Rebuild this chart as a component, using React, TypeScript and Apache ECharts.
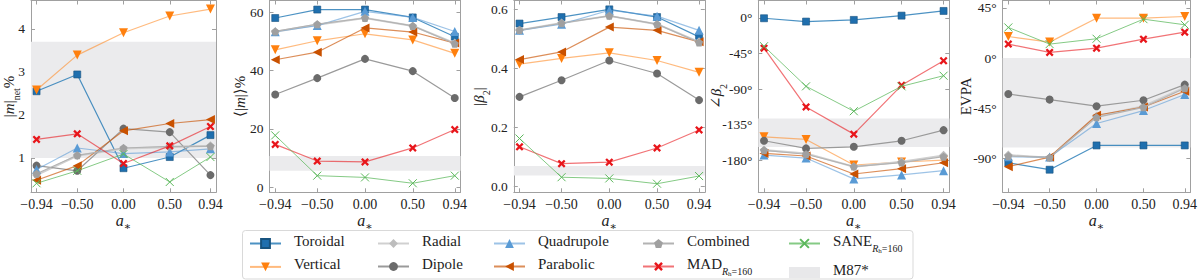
import React, { useEffect, useRef } from 'react';
import * as echarts from 'echarts';

const A_STAR = [-0.94, -0.5, 0, 0.5, 0.94];

// Panel 1: |m|_net %
const MNET_TOROIDAL = [2.55, 2.94, 0.76, 1.02, 1.53];
const MNET_VERTICAL = [2.58, 3.39, 3.91, 4.3, 4.46];
const MNET_RADIAL = [0.6, 1.05, 1.22, 1.25, 1.28];
const MNET_DIPOLE = [0.82, 0.7, 1.68, 1.6, 0.6];
const MNET_QUADRUPOLE = [0.73, 1.23, 1.1, 1.14, 1.21];
const MNET_PARABOLIC = [0.48, 0.82, 1.63, 1.8, 1.89];
const MNET_COMBINED = [0.63, 1.06, 1.23, 1.27, 1.27];
const MNET_MAD = [1.43, 1.56, 0.87, 1.28, 1.73];
const MNET_SANE = [0.41, 0.7, 1.09, 0.44, 1.02];
const MNET_BAND = [1.0, 3.7];
const MNET_TICKS = [1, 2, 3, 4];

// Panel 2: <|m|> %
const MAVG_TOROIDAL = [58.0, 60.9, 60.9, 58.2, 51.6];
const MAVG_VERTICAL = [47.1, 50.2, 52.6, 50.5, 45.9];
const MAVG_RADIAL = [53.3, 55.7, 58.0, 55.3, 49.4];
const MAVG_DIPOLE = [31.8, 37.4, 44.0, 39.8, 30.6];
const MAVG_QUADRUPOLE = [53.3, 55.4, 60.3, 58.2, 53.4];
const MAVG_PARABOLIC = [43.7, 46.3, 54.6, 53.2, 49.4];
const MAVG_COMBINED = [53.4, 55.9, 58.0, 55.3, 49.2];
const MAVG_MAD = [14.7, 9.0, 8.7, 13.5, 19.8];
const MAVG_SANE = [17.8, 4.0, 3.4, 1.4, 4.0];
const MAVG_BAND = [5.7, 10.7];
const MAVG_TICKS = [0, 20, 40, 60];

// Panel 3: |beta_2|
const B2ABS_TOROIDAL = [0.552, 0.574, 0.6, 0.574, 0.507];
const B2ABS_VERTICAL = [0.415, 0.434, 0.453, 0.427, 0.387];
const B2ABS_RADIAL = [0.529, 0.554, 0.578, 0.55, 0.49];
const B2ABS_DIPOLE = [0.304, 0.36, 0.427, 0.383, 0.293];
const B2ABS_QUADRUPOLE = [0.529, 0.55, 0.597, 0.577, 0.529];
const B2ABS_PARABOLIC = [0.43, 0.456, 0.54, 0.529, 0.49];
const B2ABS_COMBINED = [0.53, 0.553, 0.578, 0.55, 0.488];
const B2ABS_MAD = [0.135, 0.078, 0.083, 0.131, 0.192];
const B2ABS_SANE = [0.163, 0.032, 0.028, 0.01, 0.036];
const B2ABS_BAND = [0.038, 0.07];
const B2ABS_TICKS = [0, 0.2, 0.4, 0.6];

// Panel 4: angle beta_2 (deg)
const B2ARG_TOROIDAL = [-0.4, -4.6, -2.5, 2.9, 8.8];
const B2ARG_VERTICAL = [-150, -153.3, -185.6, -181.8, -179.3];
const B2ARG_RADIAL = [-166.7, -170.9, -187.7, -181.4, -173.4];
const B2ARG_DIPOLE = [-155, -164.6, -162.6, -155, -141.6];
const B2ARG_QUADRUPOLE = [-173, -176.8, -203.1, -198.1, -192.7];
const B2ARG_PARABOLIC = [-170.9, -174.2, -196.9, -190.2, -182.7];
const B2ARG_COMBINED = [-167, -172, -187.5, -182.5, -175];
const B2ARG_MAD = [-38.2, -112.3, -146.6, -85, -54];
const B2ARG_SANE = [-35.7, -86.3, -117.7, -86.3, -72.9];
const B2ARG_BAND = [-163, -127];
const B2ARG_TICKS = [0, -45, -90, -135, -180];

// Panel 5: EVPA (deg)
const EVPA_TOROIDAL = [-93.6, -99.8, -78.1, -78.1, -78.1];
const EVPA_VERTICAL = [19.3, 14.3, 35.7, 35.7, 37.2];
const EVPA_RADIAL = [-86.7, -89.1, -52, -43, -26.1];
const EVPA_DIPOLE = [-32.1, -37.1, -43.0, -37.7, -23.7];
const EVPA_QUADRUPOLE = [-88.2, -88.5, -58.5, -46.9, -32.6];
const EVPA_PARABOLIC = [-97.1, -88.5, -51.1, -43.7, -29.7];
const EVPA_COMBINED = [-87.5, -88.8, -53, -44, -27];
const EVPA_MAD = [12.5, 5.1, 8.9, 16.9, 23.2];
const EVPA_SANE = [27.4, 12.5, 17.3, 34.8, 29.8];
const EVPA_BAND = [-80, 0];
const EVPA_TICKS = [45, 0, -45, -90];

const MODEL_NAMES = ['Toroidal', 'Vertical', 'Radial', 'Dipole', 'Quadrupole', 'Parabolic', 'Combined', 'MAD', 'SANE'];
const BAND_NAME = 'M87*';

const FONT = 'Liberation Serif, DejaVu Serif, serif';
const TXT = '#222';

const DOWN = 'path://M0,0L10,0L5,9Z';
const UP = 'path://M5,0L10,9L0,9Z';
const LEFT = 'path://M0,5L9,0L9,10Z';
const DIAMOND = 'path://M5,0L10,5L5,10L0,5Z';
const PENTA = 'path://M5,0L9.76,3.45L7.94,9.05L2.06,9.05L0.24,3.45Z';
const XTHICK = 'path://M2,0L5,3L8,0L10,2L7,5L10,8L8,10L5,7L2,10L0,8L3,5L0,2Z';
const XTHIN = 'path://M0,0L10,10M10,0L0,10';

const STYLE: Record<string, any> = {
  Toroidal: { symbol: 'rect', size: 7, color: '#1f6fae', border: '#17537f', bw: 0.6, line: 'rgba(31,119,180,0.8)', lw: 1.2 },
  Vertical: { symbol: DOWN, size: 9, color: '#ff800e', line: 'rgba(255,140,40,0.6)', lw: 1.2 },
  Radial: { symbol: DIAMOND, size: 9, color: '#bdbdbd', line: '#d0d0d0', lw: 2 },
  Dipole: { symbol: 'circle', size: 8, color: '#6b6b6b', line: '#9a9a9a', lw: 1.2 },
  Quadrupole: { symbol: UP, size: 9, color: '#5a9bd5', line: 'rgba(91,155,213,0.6)', lw: 1.2 },
  Parabolic: { symbol: LEFT, size: 9, color: '#c95100', line: 'rgba(201,81,0,0.65)', lw: 1.2 },
  Combined: { symbol: PENTA, size: 8, color: '#a0a0a0', line: '#b3b3b3', lw: 1.2 },
  MAD: { symbol: XTHICK, size: 8, color: '#e8161b', line: 'rgba(232,22,27,0.6)', lw: 1.2 },
  SANE: { symbol: XTHIN, size: 8, color: 'rgba(0,0,0,0)', border: '#5cb85c', bw: 1, line: 'rgba(92,184,92,0.75)', lw: 1 },
};

const deg = (v: number) => `${v}°`;

const PANELS = [
  {
    values: [MNET_TOROIDAL, MNET_VERTICAL, MNET_RADIAL, MNET_DIPOLE, MNET_QUADRUPOLE, MNET_PARABOLIC, MNET_COMBINED, MNET_MAD, MNET_SANE],
    band: MNET_BAND, ticks: MNET_TICKS, min: 0.2, max: 4.66, fmt: (v: number) => String(v),
    name: '{n||}{i|m}{n||}{s|net}{n|%}', nameGap: 10,
  },
  {
    values: [MAVG_TOROIDAL, MAVG_VERTICAL, MAVG_RADIAL, MAVG_DIPOLE, MAVG_QUADRUPOLE, MAVG_PARABOLIC, MAVG_COMBINED, MAVG_MAD, MAVG_SANE],
    band: MAVG_BAND, ticks: MAVG_TICKS, min: -1.7, max: 64, fmt: (v: number) => String(v),
    name: '{n|⟨|}{i|m}{n||⟩%}', nameGap: 17,
  },
  {
    values: [B2ABS_TOROIDAL, B2ABS_VERTICAL, B2ABS_RADIAL, B2ABS_DIPOLE, B2ABS_QUADRUPOLE, B2ABS_PARABOLIC, B2ABS_COMBINED, B2ABS_MAD, B2ABS_SANE],
    band: B2ABS_BAND, ticks: B2ABS_TICKS, min: -0.019, max: 0.63, fmt: (v: number) => v.toFixed(1),
    name: '{n||}{i|β}{s|2}{n||}', nameGap: 22,
  },
  {
    values: [B2ARG_TOROIDAL, B2ARG_VERTICAL, B2ARG_RADIAL, B2ARG_DIPOLE, B2ARG_QUADRUPOLE, B2ARG_PARABOLIC, B2ARG_COMBINED, B2ARG_MAD, B2ARG_SANE],
    band: B2ARG_BAND, ticks: B2ARG_TICKS, min: -220, max: 22, fmt: deg,
    name: '{n|∠}{i|β}{s|2}', nameGap: 30,
  },
  {
    values: [EVPA_TOROIDAL, EVPA_VERTICAL, EVPA_RADIAL, EVPA_DIPOLE, EVPA_QUADRUPOLE, EVPA_PARABOLIC, EVPA_COMBINED, EVPA_MAD, EVPA_SANE],
    band: EVPA_BAND, ticks: EVPA_TICKS, min: -120, max: 51.5, fmt: deg,
    name: '{n|EVPA}', nameGap: 24,
  },
];

const GRID_LEFTS = [25, 269.5, 513.8, 758.3, 1002.7];
const GRID_W = 191;
const GRID_TOP = 0.5;
const GRID_H = 191.8;

const xFmt = (v: number) => (v < 0 ? '−' + Math.abs(v).toFixed(2) : v.toFixed(2));

function rich(size: number) {
  const base = { fontFamily: FONT, color: TXT, verticalAlign: 'top' };
  const sub = Math.round(size * 0.68);
  return {
    n: { ...base, fontSize: size, lineHeight: 20 },
    f: { ...base, fontSize: size, lineHeight: 20, padding: [0, 0, 0, 8] },
    i: { ...base, fontSize: size, lineHeight: 20, fontStyle: 'italic' },
    s: { ...base, fontSize: sub, lineHeight: sub, padding: [10, 0, 0, 0] },
    st: { ...base, fontSize: sub, lineHeight: sub, padding: [8, 0, 0, 0] },
    si: { ...base, fontSize: sub, lineHeight: sub, padding: [10, 0, 0, 0], fontStyle: 'italic' },
    ss: { ...base, fontSize: 7, lineHeight: 7, padding: [14, 0, 0, 0] },
  };
}

const AXIS_COLOR = '#a0a0a0';

function buildOption() {
  const grid: any[] = [];
  const xAxis: any[] = [];
  const yAxis: any[] = [];
  const series: any[] = [];
  const line = () => ({ show: true, onZero: false, lineStyle: { color: AXIS_COLOR } });

  PANELS.forEach((p, pi) => {
    grid.push({ left: GRID_LEFTS[pi], top: GRID_TOP, width: GRID_W, height: GRID_H });
    xAxis.push({
      type: 'value', gridIndex: pi, min: -1, max: 1, position: 'bottom',
      axisLine: line(),
      axisTick: { inside: true, length: 4, customValues: A_STAR },
      axisLabel: { customValues: A_STAR, formatter: xFmt, fontFamily: FONT, fontSize: 14, color: TXT, margin: 5 },
      splitLine: { show: false },
      name: '{i|a}{st|∗}', nameLocation: 'middle', nameGap: 20, nameMoveOverlap: false,
      nameTextStyle: { rich: rich(16), fontSize: 16, fontFamily: FONT },
    });
    xAxis.push({
      type: 'value', gridIndex: pi, min: -1, max: 1, position: 'top',
      axisLine: line(),
      axisTick: { inside: true, length: 4, customValues: A_STAR },
      axisLabel: { show: false },
      splitLine: { show: false },
    });
    yAxis.push({
      type: 'value', gridIndex: pi, min: p.min, max: p.max, position: 'left',
      axisLine: line(),
      axisTick: { inside: true, length: 4, customValues: p.ticks },
      axisLabel: { customValues: p.ticks, formatter: p.fmt, fontFamily: FONT, fontSize: 13.5, color: TXT, margin: 6 },
      splitLine: { show: false },
      name: p.name, nameLocation: 'middle', nameGap: p.nameGap, nameRotate: 90, nameMoveOverlap: false,
      nameTextStyle: { rich: rich(15), fontSize: 15, fontFamily: FONT },
    });
    yAxis.push({
      type: 'value', gridIndex: pi, min: p.min, max: p.max, position: 'right',
      axisLine: line(),
      axisTick: { inside: true, length: 4, customValues: p.ticks },
      axisLabel: { show: false },
      splitLine: { show: false },
    });

    series.push({
      type: 'line', name: BAND_NAME, xAxisIndex: pi * 2, yAxisIndex: pi * 2, data: [],
      itemStyle: { color: '#e8e8ea' }, symbol: 'none', z: 1,
      markArea: {
        silent: true, itemStyle: { color: '#ebebed' },
        data: [[{ yAxis: p.band[0] }, { yAxis: p.band[1] }]],
      },
    });

    MODEL_NAMES.forEach((name, si) => {
      const st = STYLE[name];
      const vals = p.values[si];
      series.push({
        type: 'line', name, xAxisIndex: pi * 2, yAxisIndex: pi * 2,
        data: A_STAR.map((x, k) => [x, vals[k]]),
        symbol: st.symbol, symbolSize: st.size,
        itemStyle: { color: st.color, borderColor: st.border || st.color, borderWidth: st.bw || 0 },
        lineStyle: { color: st.line, width: st.lw },
        z: 2 + si,
      });
    });
  });

  const legendFmt = (name: string) => {
    if (name === 'MAD' || name === 'SANE') return `{f|${name}}{si|R}{ss|h}{s|=160}`;
    return `{f|${name}}`;
  };

  const COLS = [
    ['Toroidal', 'Vertical'],
    ['Radial', 'Dipole'],
    ['Quadrupole', 'Parabolic'],
    ['Combined', 'MAD'],
    ['SANE', BAND_NAME],
  ];
  const COL_X = [249, 377, 493, 642, 788];

  const legend = COLS.map((names, ci) => ({
    orient: 'vertical', left: COL_X[ci], top: 233.5, padding: 0, itemGap: 8,
    itemWidth: 31, itemHeight: 11, selectedMode: false,
    data: names.map((n) => (n === BAND_NAME ? { name: n, icon: 'rect', itemStyle: { color: '#e8e8ea' } } : n)),
    formatter: legendFmt,
    textStyle: { rich: rich(15), fontFamily: FONT, fontSize: 15, color: TXT },
  }));

  return {
    animation: false,
    grid, xAxis, yAxis, series, legend,
    graphic: [
      {
        type: 'rect', z: -1, silent: true,
        shape: { x: 242.5, y: 230.5, width: 670.5, height: 48.5, r: 3 },
        style: { fill: '#ffffff', stroke: '#d9d9d9', lineWidth: 1 },
      },
    ],
  };
}

export default function App() {
  const ref = useRef<HTMLDivElement>(null);
  useEffect(() => {
    if (!ref.current) return;
    const chart = echarts.init(ref.current, null, { renderer: 'svg' });
    chart.setOption(buildOption() as any);
    return () => chart.dispose();
  }, []);
  return <div ref={ref} style={{ position: 'absolute', left: 0, top: 0, width: 1200, height: 280, background: '#fff' }} />;
}
